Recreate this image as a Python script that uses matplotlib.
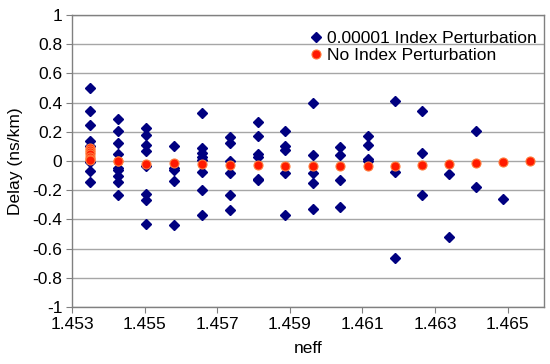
import matplotlib
matplotlib.use("Agg")
import matplotlib.pyplot as plt

plt.rcParams['font.family'] = ['Liberation Sans', 'DejaVu Sans']

# Column positions (neff)
neff_cols = [1.45350, 1.45428, 1.45504, 1.45581, 1.45659, 1.45736, 1.45811,
             1.45888, 1.45964, 1.46039, 1.46115, 1.46190, 1.46265, 1.46339,
             1.46414, 1.46487, 1.46561]

# 0.00001 Index Perturbation: delay values per column
pert_vals = [
    [0.50, 0.345, 0.245, 0.14, 0.10, -0.01, -0.068, -0.144],
    [0.285, 0.205, 0.12, 0.05, -0.048, -0.065, -0.10, -0.145, -0.23],
    [0.225, 0.18, 0.107, 0.07, -0.037, -0.226, -0.27, -0.43],
    [0.105, -0.045, -0.065, -0.14, -0.437],
    [0.33, 0.09, 0.055, 0.03, 0.009, -0.072, -0.20, -0.373],
    [0.164, 0.125, 0.0, -0.08, -0.23, -0.338],
    [0.264, 0.173, 0.05, 0.027, -0.12, -0.133],
    [0.207, 0.10, 0.075, -0.082, -0.373],
    [0.396, 0.043, -0.082, -0.152, -0.327],
    [0.097, 0.043, -0.133, -0.312],
    [0.168, 0.11, 0.012, 0.0],
    [0.414, -0.078, -0.663],
    [0.342, 0.053, -0.23],
    [-0.086, -0.52],
    [0.205, -0.178],
    [-0.26],
    [],
]

# No Index Perturbation: delay values per column
nopert_vals = [
    [0.09, 0.075, 0.06, 0.045, 0.03, 0.015, 0.005],
    [0.0, -0.003],
    [-0.018],
    [-0.017],
    [-0.02],
    [-0.027],
    [-0.03],
    [-0.032],
    [-0.037],
    [-0.037],
    [-0.037],
    [-0.032],
    [-0.027],
    [-0.023],
    [-0.016],
    [-0.01],
    [-0.003],
]

px, py = [], []
for x, vals in zip(neff_cols, pert_vals):
    for v in vals:
        px.append(x); py.append(v)
rx, ry = [], []
for x, vals in zip(neff_cols, nopert_vals):
    for v in vals:
        rx.append(x); ry.append(v)

xticks = [1.453, 1.455, 1.457, 1.459, 1.461, 1.463, 1.465]
xtick_labels = ["1.453", "1.455", "1.457", "1.459", "1.461", "1.463", "1.465"]
yticks = [-1, -0.8, -0.6, -0.4, -0.2, 0, 0.2, 0.4, 0.6, 0.8, 1]
ytick_labels = ["-1", "-0.8", "-0.6", "-0.4", "-0.2", "0", "0.2", "0.4", "0.6", "0.8", "1"]

fig = plt.figure(figsize=(5.5, 3.64), dpi=100)
ax = fig.add_axes([72/550, 1-307/364, (544-72)/550, (307-15)/364])

ax.set_xlim(1.453, 1.466)
ax.set_ylim(-1, 1)
ax.set_xticks(xticks)
ax.set_xticklabels(xtick_labels)
ax.set_yticks(yticks)
ax.set_yticklabels(ytick_labels)
ax.yaxis.grid(True, color='#a6a6a6', linewidth=1.0)
ax.set_axisbelow(True)
for s in ax.spines.values():
    s.set_color('#808080')
    s.set_linewidth(1.0)
ax.tick_params(axis='both', direction='out', length=4, color='#808080',
               labelsize=12.5, pad=3)

ax.plot(px, py, linestyle='none', marker='D', markersize=4.6,
        color='#000080', label='0.00001 Index Perturbation', zorder=3)
ax.plot(rx, ry, linestyle='none', marker='o', markersize=6.5,
        markerfacecolor='#ff1a00', markeredgecolor='#ff7a3a', markeredgewidth=0.8,
        label='No Index Perturbation', zorder=4)

ax.set_xlabel('neff', fontsize=12.5, labelpad=7)
ax.set_ylabel('Delay (ns/km)', fontsize=12.5, labelpad=7)

leg = ax.legend(loc='upper right', bbox_to_anchor=(1.0, 0.97), frameon=False,
                fontsize=12.5, handletextpad=0.15, handlelength=1.0,
                borderaxespad=0.2, labelspacing=0.1, borderpad=0.2)

fig.savefig('out.png', dpi=100)
